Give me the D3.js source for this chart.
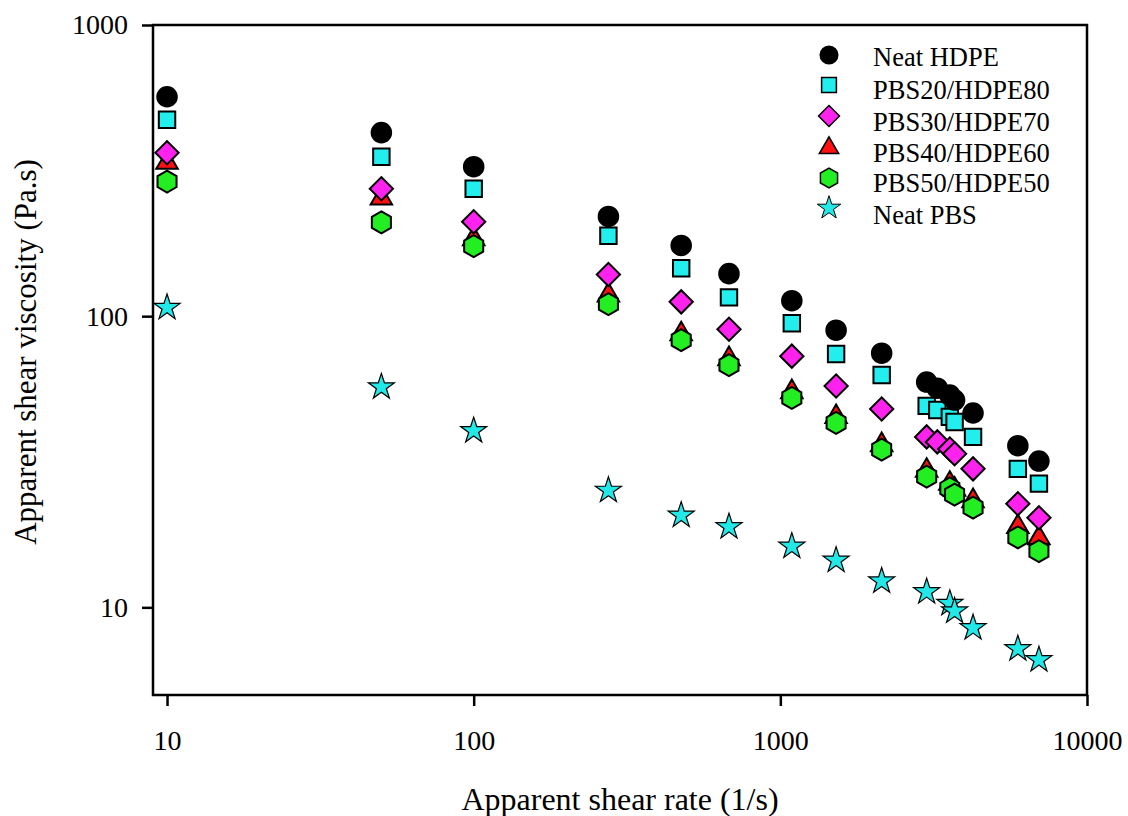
<!DOCTYPE html>
<html>
<head>
<meta charset="utf-8">
<script src="https://cdn.jsdelivr.net/npm/d3@7"></script>
<style>
  body { margin: 0; background: #fff; }
  svg text { font-family: "Liberation Serif", "Times New Roman", serif; fill: #000; }
</style>
</head>
<body>
<svg id="chart" width="1128" height="816"></svg>
<script>
// shear rates (1/s)
var shearRates = [10, 50, 100, 275, 475, 680, 1090, 1520, 2140, 3000, 3250, 3570, 3700, 4250, 5950, 6970];

var neatHDPE   = [567, 427, 326, 220, 175, 140, 113, 89.5, 74.6, 59.4, 56.6, 53.6, 51.5, 46.5, 35.9, 31.8];
var pbs20      = [473, 353, 274, 189, 146, 116, 94.6, 74.1, 62.8, 49.2, 47.6, 45.1, 43.3, 38.5, 29.9, 26.6];
var pbs30      = [364, 274, 211, 139, 112, 90.2, 72.9, 57.6, 48.0, 38.5, 37.0, 35.0, 33.7, 29.9, 22.7, 20.3];
var pbs40      = [337, 254, 184, 118, 86.8, 71.3, 54.9, 45.1, 36.1, 29.5, null, 26.6, 25.4, 23.2, 18.9, 17.3];
var pbs50      = [290, 210, 174, 110, 82.7, 67.9, 52.4, 43.0, 34.8, 28.1, null, 25.6, 24.4, 22.0, 17.4, 15.6];
var neatPBS    = [107, 57.1, 40.4, 25.2, 20.7, 18.9, 16.2, 14.5, 12.3, 11.3, null, 10.3, 9.7, 8.5, 7.2, 6.6];

var seriesNames = ["Neat HDPE", "PBS20/HDPE80", "PBS30/HDPE70", "PBS40/HDPE60", "PBS50/HDPE50", "Neat PBS"];
var xTicks = [10, 100, 1000, 10000];
var yTicks = [10, 100, 1000];

var series = [
  {name: seriesNames[0], values: neatHDPE, symbol: d3.symbolCircle, size: 300, fill: "#000000"},
  {name: seriesNames[1], values: pbs20, symbol: d3.symbolSquare, size: 270, fill: "#22eeee"},
  {name: seriesNames[2], values: pbs30, symbol: d3.symbolSquare, size: 270, fill: "#ff22ee", rot: 45},
  {name: seriesNames[3], values: pbs40, symbol: d3.symbolTriangle, size: 200, fill: "#ff1010"},
  {name: seriesNames[4], values: pbs50, symbol: "hex", size: 16, fill: "#22ee22"},
  {name: seriesNames[5], values: neatPBS, symbol: d3.symbolStar, size: 210, fill: "#22e8e8", thin: true}
];

var svg = d3.select("#chart");
var mLeft = 153, mTop = 25, mRight = 1087, mBottom = 695;

var x = d3.scaleLog().domain([9, 10000]).range([mLeft, mRight]);
var y = d3.scaleLog().domain([5, 1000]).range([mBottom, mTop]);

// hexagon path, pointy top
function hexPath(r) {
  var pts = d3.range(6).map(function(i) {
    var a = Math.PI / 3 * i - Math.PI / 2;
    return [r * Math.cos(a), r * Math.sin(a)];
  });
  return "M" + pts.join("L") + "Z";
}

function markPath(s, scale) {
  scale = scale || 1;
  if (s.symbol === "hex") return hexPath(11 * scale);
  return d3.symbol().type(s.symbol).size(s.size * scale * scale)();
}

// frame
svg.append("rect")
  .attr("x", mLeft).attr("y", mTop)
  .attr("width", mRight - mLeft).attr("height", mBottom - mTop)
  .attr("fill", "none").attr("stroke", "#000").attr("stroke-width", 2.5);

// axes
var xAxis = d3.axisBottom(x).tickValues(xTicks).tickFormat(d3.format("d")).tickSize(11).tickPadding(24);
var gx = svg.append("g").attr("transform", "translate(0," + mBottom + ")").call(xAxis);
var yAxis = d3.axisLeft(y).tickValues(yTicks).tickFormat(d3.format("d")).tickSize(11).tickPadding(14);
var gy = svg.append("g").attr("transform", "translate(" + mLeft + ",0)").call(yAxis);

[gx, gy].forEach(function(g) {
  g.attr("font-size", null).attr("font-family", null);
  g.select(".domain").remove();
  g.selectAll(".tick line").attr("stroke", "#000").attr("stroke-width", 2.5);
  g.selectAll(".tick text").style("font-size", "28px");
});

// axis titles
svg.append("text")
  .attr("x", 620).attr("y", 810)
  .attr("text-anchor", "middle")
  .style("font-size", "32px")
  .text("Apparent shear rate (1/s)");

svg.append("text")
  .attr("transform", "translate(36,352) rotate(-90)")
  .attr("text-anchor", "middle")
  .style("font-size", "31px")
  .text("Apparent shear viscosity (Pa.s)");

// points, drawn bottom series first so HDPE sits on top
var order = [5, 3, 4, 2, 1, 0];
order.forEach(function(i) {
  var s = series[i];
  var pts = shearRates.map(function(r, k) { return {r: r, v: s.values[k]}; })
    .filter(function(d) { return d.v != null; });
  svg.append("g").selectAll("path").data(pts).enter().append("path")
    .attr("d", markPath(s))
    .attr("transform", function(d) {
      return "translate(" + x(d.r) + "," + y(d.v) + ")" + (s.rot ? " rotate(" + s.rot + ")" : "");
    })
    .attr("fill", s.fill)
    .attr("stroke", "#000")
    .attr("stroke-width", s.thin ? 1.2 : 2);
});

// legend
var legendY = [55, 85, 116, 148, 178, 208];
var textY = [57, 90, 122, 153, 183, 215];
series.forEach(function(s, i) {
  svg.append("path")
    .attr("d", markPath(s, 0.9))
    .attr("transform", "translate(829," + legendY[i] + ")" + (s.rot ? " rotate(" + s.rot + ")" : ""))
    .attr("fill", s.fill)
    .attr("stroke", "#000")
    .attr("stroke-width", s.thin ? 1 : 1.5);
  svg.append("text")
    .attr("x", 873).attr("y", textY[i])
    .attr("dy", "0.35em")
    .style("font-size", "26.5px")
    .text(s.name);
});
</script>
</body>
</html>
